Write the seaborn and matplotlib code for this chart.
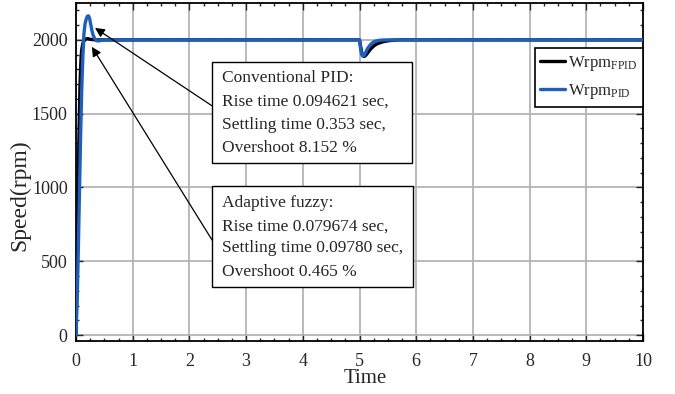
import matplotlib
matplotlib.use("Agg")
import matplotlib.pyplot as plt
import pandas as pd
import seaborn as sns
from matplotlib.patches import Rectangle
from matplotlib.ticker import AutoMinorLocator, MultipleLocator

# speed response (time in s, speed in rpm)
t_fpid = [0, 0.01, 0.02, 0.03, 0.04, 0.05, 0.06, 0.07, 0.08, 0.09, 0.10, 0.12,
          0.14, 0.17, 0.20, 0.25, 0.35, 4.99, 5.00, 5.02, 5.04, 5.06, 5.08,
          5.10, 5.13, 5.16, 5.20, 5.25, 5.30, 5.40, 5.50, 5.60, 5.70, 10]
w_fpid = [0, 250, 500, 780, 1050, 1300, 1500, 1680, 1800, 1880, 1930, 1975,
          1993, 2005, 2009, 2004, 2000, 2000, 2000, 1955, 1915, 1895, 1888,
          1892, 1905, 1920, 1940, 1958, 1972, 1986, 1994, 1998, 2000, 2000]

t_pid = [0, 0.02, 0.04, 0.06, 0.08, 0.10, 0.12, 0.14, 0.16, 0.18, 0.20, 0.22,
         0.24, 0.26, 0.28, 0.30, 0.33, 0.36, 0.40, 0.45, 0.55, 4.99, 5.00,
         5.02, 5.04, 5.06, 5.08, 5.11, 5.14, 5.18, 5.22, 5.27, 5.33, 5.40,
         5.50, 10]
w_pid = [0, 230, 560, 950, 1330, 1650, 1880, 2040, 2110, 2140, 2160, 2163,
         2145, 2105, 2065, 2035, 2008, 1995, 1993, 1997, 2000, 2000, 2000,
         1940, 1900, 1890, 1895, 1915, 1940, 1962, 1978, 1990, 1996, 1999,
         2000, 2000]

pid_lines = ["Conventional PID:", "Rise time 0.094621 sec,",
             "Settling time 0.353 sec,", "Overshoot 8.152 %"]
fuzzy_lines = ["Adaptive fuzzy:", "Rise time 0.079674 sec,",
               "Settling time 0.09780 sec,", "Overshoot 0.465 %"]

BLACK = "#000000"
BLUE = "#1a5fc8"


def add_note(ax, lines, x0, x1, y0, y1, text_x, text_ys):
    ax.add_patch(Rectangle((x0, y0), x1 - x0, y1 - y0, facecolor="white",
                           edgecolor="black", lw=1.0, zorder=4))
    for line, ty in zip(lines, text_ys):
        ax.text(text_x, ty, line, fontsize=12.5, va="center", ha="left",
                zorder=5)


def main():
    sns.set_style("ticks")
    plt.rcParams["font.family"] = ["Liberation Serif", "DejaVu Serif"]
    plt.rcParams["mathtext.fontset"] = "custom"
    plt.rcParams["mathtext.rm"] = "Liberation Serif"
    plt.rcParams["mathtext.it"] = "Liberation Serif:italic"

    fig = plt.figure(figsize=(6.75, 3.94), dpi=100)
    ax = fig.add_axes([76 / 675, 1 - 341 / 394, 567 / 675, 338 / 394])

    lab_f = r"Wrpm$_{\mathrm{FPID}}$"
    lab_p = r"Wrpm$_{\mathrm{PID}}$"
    df = pd.concat([
        pd.DataFrame({"t": t_fpid, "w": w_fpid, "s": lab_f}),
        pd.DataFrame({"t": t_pid, "w": w_pid, "s": lab_p}),
    ], ignore_index=True)
    sns.lineplot(data=df, x="t", y="w", hue="s",
                 palette={lab_f: BLACK, lab_p: BLUE}, lw=2.4, ax=ax,
                 estimator=None, sort=False, zorder=3)

    ax.set_xlim(0, 10)
    ax.set_ylim(-40, 2250)
    ax.xaxis.set_major_locator(MultipleLocator(1))
    ax.xaxis.set_minor_locator(AutoMinorLocator(4))
    ax.yaxis.set_major_locator(MultipleLocator(500))
    ax.yaxis.set_minor_locator(AutoMinorLocator(5))
    ax.tick_params(which="both", direction="in", top=True, right=True,
                   labelsize=13, width=1.0)
    ax.tick_params(which="major", length=5)
    ax.tick_params(axis="x", which="major", pad=9)
    ax.tick_params(axis="y", which="major", pad=6)
    ax.tick_params(which="minor", length=2.5)
    ax.grid(True, which="major", color="#b4b4b4", lw=1.3)
    ax.set_axisbelow(True)
    for sp in ax.spines.values():
        sp.set_color("black")
        sp.set_linewidth(1.3)

    ax.set_xlabel("Time", fontsize=15)
    ax.xaxis.set_label_coords(0.51, -0.083)
    ax.set_ylabel("Speed(rpm)", fontsize=17)
    ax.yaxis.set_label_coords(-0.081, 0.43)

    leg = ax.legend(loc="upper right", bbox_to_anchor=(1.0, (341 - 48) / 338),
                    frameon=True, fancybox=False, edgecolor="black",
                    framealpha=1, fontsize=12, handlelength=1.5,
                    handletextpad=0.15, borderpad=0.35, labelspacing=0.55,
                    borderaxespad=0)
    leg.get_frame().set_linewidth(1.2)
    for h in leg.get_lines():
        h.set_linewidth(2.4)

    # annotation boxes
    add_note(ax, pid_lines, 2.40, 5.93, 1166, 1851, 2.575,
             [1742, 1580, 1424, 1268])
    add_note(ax, fuzzy_lines, 2.40, 5.94, 325, 1010, 2.575,
             [895, 732, 590, 427])

    arrow = dict(arrowstyle="-|>", color="black", lw=0.9,
                 mutation_scale=14, shrinkA=0, shrinkB=0)
    ax.annotate("", xy=(0.335, 2081), xytext=(2.40, 1553),
                arrowprops=arrow, zorder=6)
    ax.annotate("", xy=(0.28, 1953), xytext=(2.40, 644),
                arrowprops=arrow, zorder=6)

    fig.savefig("out.png", dpi=100)


if __name__ == "__main__":
    main()
